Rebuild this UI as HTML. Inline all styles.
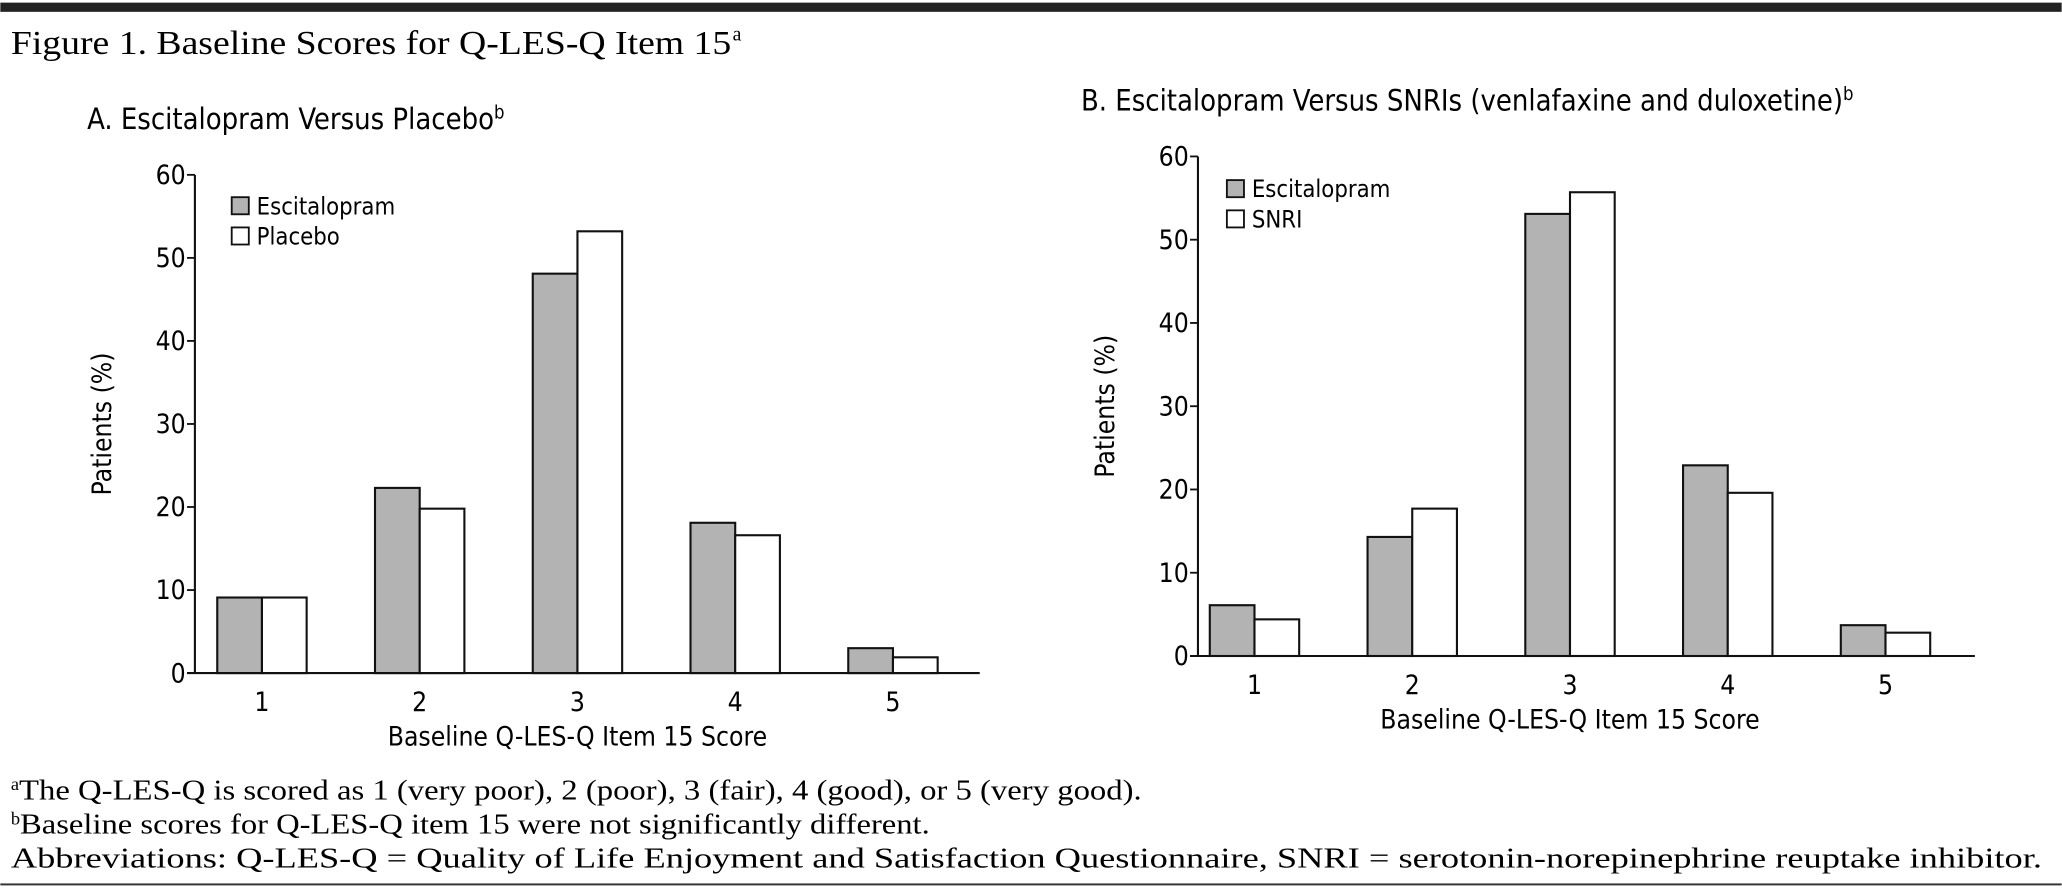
<!DOCTYPE html>
<html><head><meta charset="utf-8"><style>
html,body{margin:0;padding:0;background:#fff;}
svg{display:block;}
.sans{font-family:"DejaVu Sans Condensed","Liberation Sans",sans-serif;}
.serif{font-family:"Liberation Serif",serif;}
</style></head><body>
<svg id="fig" width="2062" height="890" viewBox="0 0 1568 677" xmlns="http://www.w3.org/2000/svg">
<rect x="0" y="2" width="1568" height="7" fill="#222"/>
<text class="serif" x="8" y="41" font-size="26" textLength="548" lengthAdjust="spacingAndGlyphs">Figure 1. Baseline Scores for Q-LES-Q Item 15</text>
<text class="serif" x="557" y="31" font-size="15">a</text>
<g id="chartA"></g>
<g id="chartB"></g>
<g class="serif" font-size="22">
<text x="8" y="608"><tspan font-size="14" dy="-7">a</tspan><tspan dy="7" textLength="854" lengthAdjust="spacingAndGlyphs">The Q-LES-Q is scored as 1 (very poor), 2 (poor), 3 (fair), 4 (good), or 5 (very good).</tspan></text>
<text x="8" y="634"><tspan font-size="14" dy="-7">b</tspan><tspan dy="7" textLength="692" lengthAdjust="spacingAndGlyphs">Baseline scores for Q-LES-Q item 15 were not significantly different.</tspan></text>
<text x="8" y="660" textLength="1545" lengthAdjust="spacingAndGlyphs">Abbreviations: Q-LES-Q = Quality of Life Enjoyment and Satisfaction Questionnaire, SNRI = serotonin-norepinephrine reuptake inhibitor.</text>
</g>
<rect x="0" y="672" width="1568" height="1.5" fill="#333"/>
</svg>
<script>
const categories = ["1","2","3","4","5"];
const yTicks = [0,10,20,30,40,50,60];
const escA = [9.1, 22.3, 48.1, 18.1, 3.0];
const placeboA = [9.1, 19.8, 53.2, 16.6, 1.9];
const escB = [6.1, 14.3, 53.1, 22.9, 3.7];
const snriB = [4.4, 17.7, 55.7, 19.6, 2.8];
const NS = "http://www.w3.org/2000/svg";
function mk(parent, tag, attrs, txt){
  const e = document.createElementNS(NS, tag);
  for (const k in attrs) e.setAttribute(k, attrs[k]);
  if (txt !== undefined) e.textContent = txt;
  parent.appendChild(e);
  return e;
}
function drawChart(g, cfg){
  const y = v => cfg.y0 - v/60*(cfg.y0-cfg.y60);
  const xc = i => cfg.x1 + i*120;
  const t = mk(g,"text",{class:"sans",x:cfg.tx,y:cfg.ty,"font-size":22},cfg.title);
  
  
  const sup = mk(t,"tspan",{"font-size":14,dy:-8},"b");
  for (let i=0;i<categories.length;i++){
    const r1 = mk(g,"rect",{x:xc(i)-34,y:y(cfg.s1[i]),width:34,height:y(0)-y(cfg.s1[i]),fill:"#b3b3b3",stroke:"#111","stroke-width":1.6});
    
    
    const r2 = mk(g,"rect",{x:xc(i),y:y(cfg.s2[i]),width:34,height:y(0)-y(cfg.s2[i]),fill:"#fff",stroke:"#111","stroke-width":1.6});
    
    
    const xl = mk(g,"text",{class:"sans",x:xc(i),y:y(0)+29,"font-size":20,"text-anchor":"middle"},categories[i]);
    
    
  }
  const ya = mk(g,"line",{x1:cfg.ax,y1:y(60),x2:cfg.ax,y2:y(0),stroke:"#111","stroke-width":1.6});
  
  
  const xa = mk(g,"line",{x1:cfg.ax-6,y1:y(0),x2:cfg.xend,y2:y(0),stroke:"#111","stroke-width":1.6});
  
  
  yTicks.forEach(v=>{
    const tk = mk(g,"line",{x1:cfg.ax-6,y1:y(v),x2:cfg.ax,y2:y(v),stroke:"#111","stroke-width":1.4});
    
    
    const tl = mk(g,"text",{class:"sans",x:cfg.ax-7,y:y(v)+7,"font-size":20,"text-anchor":"end"},String(v));
    
    
  });
  const yt = mk(g,"text",{class:"sans",x:0,y:0,"font-size":20,"text-anchor":"middle",transform:`translate(${cfg.ax-64},${(y(0)+y(60))/2}) rotate(-90)`},"Patients (%)");
  
  
  const xt = mk(g,"text",{class:"sans",x:xc(2),y:y(0)+55,"font-size":20,"text-anchor":"middle"},"Baseline Q-LES-Q Item 15 Score");
  
  
  const names = ["Escitalopram", cfg.name2], fills = ["#b3b3b3","#fff"];
  for (let k=0;k<2;k++){
    const ly = cfg.ly + k*23;
    const sw = mk(g,"rect",{x:cfg.lx,y:ly,width:13,height:13,fill:fills[k],stroke:"#111","stroke-width":1.4});
    
    
    const lt = mk(g,"text",{class:"sans",x:cfg.lx+19,y:ly+13,"font-size":18},names[k]);
    
    
  }
}
drawChart(document.getElementById('chartA'),{ax:148,y0:512,y60:133,x1:199,xend:745,s1:escA,s2:placeboA,name2:"Placebo",lx:176,ly:150,tx:66,ty:98,title:"A. Escitalopram Versus Placebo"});
drawChart(document.getElementById('chartB'),{ax:911,y0:499,y60:119,x1:954,xend:1502,s1:escB,s2:snriB,name2:"SNRI",lx:933,ly:137,tx:822,ty:84,title:"B. Escitalopram Versus SNRIs (venlafaxine and duloxetine)"});
</script>
</body></html>
